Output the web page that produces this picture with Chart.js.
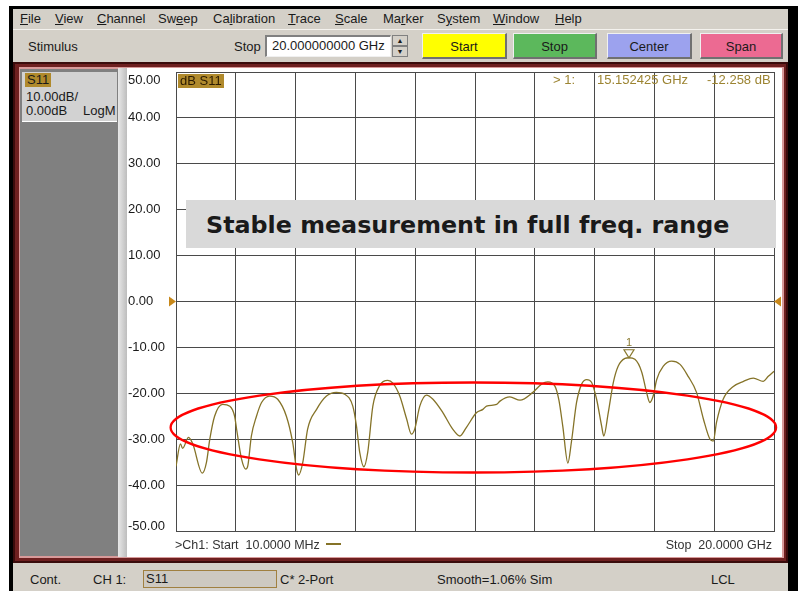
<!DOCTYPE html>
<html>
<head>
<meta charset="utf-8">
<script src="https://cdn.jsdelivr.net/npm/chart.js@4.4.0/dist/chart.umd.min.js"></script>
<style>
body { margin: 0; width: 798px; height: 591px; position: relative; overflow: hidden; background: #fff;
       font-family: "Liberation Sans", Arial, sans-serif; font-size: 13px; color: #1a1a1a; }
.abs { position: absolute; white-space: nowrap; }
.frame-black { background: #000; }
#menu { left: 13px; top: 9px; width: 775px; height: 20px; background: #d4d0c8; }
#menu span { position: absolute; top: 3px; line-height: 14px; }
#toolbar { left: 13px; top: 29px; width: 775px; height: 33px; background: #d4d0c8; border-top: 1px solid #f4f2ee; box-sizing: border-box; }
.btn { top: 33px; height: 26px; line-height: 26px; text-align: center; box-sizing: border-box;
       border-top: 1px solid #f0f0f0; border-left: 1px solid #f0f0f0; border-right: 2px solid #707070; border-bottom: 2px solid #707070; }
#panel { left: 13px; top: 62px; width: 775px; height: 501px; background: #6e2020; box-shadow: inset 0 0 0 2px #3a0c0c; }
#status { left: 13px; top: 563px; width: 775px; height: 28px; background: #d4d0c8; }
.st { top: 572px; line-height: 15px; }
.readout { top: 73px; line-height: 14px; color: #9c8432; }
</style>
</head>
<body>
<!-- cadre de la fenêtre -->
<div class="abs frame-black" style="left:9px;top:6px;width:789px;height:3px"></div>
<div class="abs frame-black" style="left:9px;top:6px;width:4px;height:585px"></div>
<div class="abs frame-black" style="left:788px;top:6px;width:10px;height:585px"></div>

<div id="menu" class="abs">
  <span style="left:7px"><u>F</u>ile</span>
  <span style="left:42px"><u>V</u>iew</span>
  <span style="left:84px"><u>C</u>hannel</span>
  <span style="left:145px">Sw<u>e</u>ep</span>
  <span style="left:200px">Ca<u>l</u>ibration</span>
  <span style="left:275px"><u>T</u>race</span>
  <span style="left:322px"><u>S</u>cale</span>
  <span style="left:370px">Ma<u>r</u>ker</span>
  <span style="left:424px">S<u>y</u>stem</span>
  <span style="left:480px"><u>W</u>indow</span>
  <span style="left:542px"><u>H</u>elp</span>
</div>

<div id="toolbar" class="abs"></div>
<div class="abs" style="left:28px;top:39px;line-height:15px">Stimulus</div>
<div class="abs" style="left:234px;top:39px;line-height:15px">Stop</div>
<div class="abs" style="left:265px;top:35px;width:126px;height:22px;background:#fff;box-sizing:border-box;border-top:2px solid #808080;border-left:2px solid #808080;border-bottom:1px solid #f0f0f0;border-right:1px solid #f0f0f0;padding-left:5px;line-height:18px" id="stopBox"></div>
<div class="abs" style="left:392px;top:35px;width:16px;height:11px;background:#d4d0c8;box-sizing:border-box;border:1px solid #808080;font-size:7px;line-height:9px;text-align:center">&#9650;</div>
<div class="abs" style="left:392px;top:46px;width:16px;height:11px;background:#d4d0c8;box-sizing:border-box;border:1px solid #808080;font-size:7px;line-height:9px;text-align:center">&#9660;</div>
<div class="abs btn" style="left:422px;width:85px;background:#ffff00">Start</div>
<div class="abs btn" style="left:513px;width:84px;background:#5cb85c">Stop</div>
<div class="abs btn" style="left:607px;width:85px;background:#9ca2ee">Center</div>
<div class="abs btn" style="left:700px;width:83px;background:#ec6a92">Span</div>

<!-- fenêtre de la trace -->
<div id="panel" class="abs"></div>
<div class="abs" style="left:19px;top:67px;width:765px;height:491px;background:#d89a9a"></div>
<div class="abs" style="left:20px;top:69px;width:98px;height:487px;background:#808080"></div>
<div class="abs" style="left:22px;top:72px;width:95px;height:49px;background:#d2d2d2;border-bottom:1px solid #fff"></div>
<div class="abs" style="left:25px;top:73px;line-height:14px;background:#b08a2c;padding:0 2px">S11</div>
<div class="abs" style="left:26px;top:90px;line-height:14px">10.00dB/</div>
<div class="abs" style="left:26px;top:104px;line-height:14px">0.00dB</div>
<div class="abs" style="left:83px;top:104px;line-height:14px">LogM</div>
<div class="abs" style="left:118px;top:68px;width:9px;height:489px;background:linear-gradient(90deg,#e8e8e8,#bdbdbd)"></div>
<div class="abs" style="left:127px;top:68px;width:655px;height:489px;background:#fff"></div>

<div class="abs" style="left:127px;top:68px;width:655px;height:489px;z-index:1">
  <canvas id="s11Chart"></canvas>
</div>

<div class="abs" style="left:178px;top:74px;line-height:14px;background:#b08a2c;color:#2a1a00;padding:0 2px;z-index:2">dB S11</div>
<div class="abs readout" style="left:553px;z-index:2">&gt; 1:</div>
<div class="abs readout" style="left:597px;z-index:2" id="mkF"></div>
<div class="abs readout" style="left:707px;z-index:2" id="mkA"></div>
<div class="abs" style="left:175px;top:538px;line-height:14px;font-size:12.5px;color:#333;z-index:2" id="startLbl"></div>
<div class="abs" style="left:326px;top:543px;width:15px;height:2px;background:#857328;z-index:2"></div>
<div class="abs" style="right:26px;top:538px;line-height:14px;font-size:12.5px;color:#333;z-index:2" id="stopLbl"></div>

<div class="abs" style="left:186px;top:200px;width:590px;height:48px;background:#d9d9d9;z-index:3;
     font-family:'DejaVu Sans',Verdana,sans-serif;font-weight:bold;font-size:23.8px;line-height:50px;padding-left:20px;box-sizing:border-box;color:#1a1a1a">Stable measurement in full freq. range</div>

<div id="status" class="abs"></div>
<div class="abs st" style="left:30px">Cont.</div>
<div class="abs st" style="left:93px">CH 1:</div>
<div class="abs" style="left:143px;top:570px;width:134px;height:18px;box-sizing:border-box;border:1px solid #a08040;background:#cdc9c1;padding-left:2px;line-height:16px">S11</div>
<div class="abs st" style="left:280px">C* 2-Port</div>
<div class="abs st" style="left:437px">Smooth=1.06% Sim</div>
<div class="abs st" style="left:711px">LCL</div>

<script>
// ============================================================
//  DONNÉES (lues sur la capture)
// ============================================================
const startGHz = 0.01;
const stopGHz = 20;
const yTicksDb = [50, 40, 30, 20, 10, 0, -10, -20, -30, -40, -50];

const freqGHz = [0.01, 0.16, 0.23, 0.43, 0.57, 0.89, 1.03, 1.14, 1.30, 1.57, 1.81, 1.97, 2.04, 2.20, 2.34, 2.41,
  2.53, 2.70, 2.87, 3.14, 3.41, 3.70, 3.91, 4.04, 4.11, 4.25, 4.41, 4.71, 5.04, 5.37, 5.65, 5.92, 6.04, 6.15,
  6.29, 6.42, 6.59, 6.82, 7.09, 7.26, 7.49, 7.72, 7.88, 7.99, 8.16, 8.38, 8.60, 8.93, 9.26, 9.50, 9.72, 10.06,
  10.27, 10.39, 10.73, 10.84, 11.17, 11.51, 11.94, 12.23, 12.44, 12.68, 12.81, 12.94, 13.11, 13.23, 13.40,
  13.57, 13.74, 13.90, 14.07, 14.24, 14.31, 14.46, 14.63, 14.79, 15.02, 15.15, 15.35, 15.58, 15.74, 15.85,
  15.96, 16.08, 16.30, 16.58, 16.86, 17.13, 17.41, 17.64, 17.86, 17.97, 18.08, 18.30, 18.64, 18.98, 19.31,
  19.64, 19.81, 20.00];

const s11dB = [-35.9, -31, -32, -29.6, -31, -37.4, -35, -30, -25, -22.4, -22.8, -25, -28, -34.3, -36.5, -35.8,
  -29.3, -25, -22, -20.6, -21.3, -25, -30.7, -36.5, -37.8, -35, -27.8, -23.5, -20.6, -19.8, -20.2, -22.8, -27, -32.8,
  -36, -32.8, -22.8, -18.3, -17.2, -17.8, -20.6, -25.6, -28.9, -27.8, -22.8, -20.4, -21.3, -24.2, -27.8, -29.3, -27.4, -24.2,
  -23.5, -22.8, -22.4, -21.7, -20.8, -21.5, -19.8, -18, -17.5, -18.5, -21.5, -27.2, -35.2, -30.5, -22,
  -18, -17, -17.6, -21.3, -27.2, -29.3, -24.2, -17.6, -14.1, -12.4, -12.26, -12.6, -15.4, -19.8, -22,
  -20.6, -17, -14.1, -13, -13.7, -16.3, -19.8, -25.6, -30, -30.4, -26.3, -21.3, -18.5, -17.4, -16.7,
  -17.4, -16.3, -15.2];

// marqueur 1
const markerGHz = 15.152425;
const markerDb = -12.258;
const refLevelDb = 0;

// ellipse rouge (annotation), en unités des axes
const ellipseCenterGHz = 9.95, ellipseRadiusGHz = 10.12;
const ellipseCenterDb = -27.45, ellipseRadiusDb = 9.8;

document.getElementById('stopBox').innerText = stopGHz.toFixed(9) + ' GHz';
document.getElementById('mkF').innerText = markerGHz.toFixed(6) + ' GHz';
document.getElementById('mkA').innerText = markerDb.toFixed(3) + ' dB';
document.getElementById('startLbl').innerHTML = '&gt;Ch1: Start&nbsp; ' + (startGHz * 1000).toFixed(4) + ' MHz';
document.getElementById('stopLbl').innerHTML = 'Stop&nbsp; ' + stopGHz.toFixed(4) + ' GHz';

// ============================================================
//  DESSINS SUPPLÉMENTAIRES (libellés, repères, marqueur, ellipse)
// ============================================================
const overlayPlugin = {
  id: 'vnaOverlay',
  afterDraw(chart) {
    const { ctx, chartArea: a, scales: { x, y } } = chart;
    ctx.save();

    // libellés de l'axe Y, collés au bord du cadre comme sur l'analyseur
    ctx.font = '13px "Liberation Sans", Arial, sans-serif';
    ctx.fillStyle = '#1a1a1a';
    ctx.textAlign = 'left';
    ctx.textBaseline = 'middle';
    y.ticks.forEach(t => {
      const py = Math.min(Math.max(y.getPixelForValue(t.value), a.top + 8), a.bottom - 5);
      ctx.fillText(t.value.toFixed(2), y.left, py);
    });

    // repères de niveau de référence
    const y0 = y.getPixelForValue(refLevelDb);
    ctx.fillStyle = '#c8881a';
    ctx.beginPath();
    ctx.moveTo(a.left - 7, y0 - 5); ctx.lineTo(a.left, y0); ctx.lineTo(a.left - 7, y0 + 5);
    ctx.closePath(); ctx.fill();
    ctx.beginPath();
    ctx.moveTo(a.right + 7, y0 - 5); ctx.lineTo(a.right, y0); ctx.lineTo(a.right + 7, y0 + 5);
    ctx.closePath(); ctx.fill();

    // marqueur 1
    const mx = x.getPixelForValue(markerGHz);
    const my = y.getPixelForValue(markerDb);
    ctx.strokeStyle = '#8a7a30';
    ctx.lineWidth = 1.2;
    ctx.beginPath();
    ctx.moveTo(mx - 5, my - 8); ctx.lineTo(mx + 5, my - 8); ctx.lineTo(mx, my);
    ctx.closePath(); ctx.stroke();
    ctx.fillStyle = '#8a7a30';
    ctx.font = '11px "Liberation Sans", Arial, sans-serif';
    ctx.textAlign = 'center';
    ctx.fillText('1', mx, my - 15);

    // ellipse rouge
    const cx = x.getPixelForValue(ellipseCenterGHz);
    const cy = y.getPixelForValue(ellipseCenterDb);
    const rx = x.getPixelForValue(ellipseCenterGHz + ellipseRadiusGHz) - cx;
    const ry = y.getPixelForValue(ellipseCenterDb - ellipseRadiusDb) - cy;
    ctx.strokeStyle = '#ff0000';
    ctx.lineWidth = 2.3;
    ctx.beginPath();
    ctx.ellipse(cx, cy, rx, ry, 0, 0, Math.PI * 2);
    ctx.stroke();

    ctx.restore();
  }
};

// ============================================================
//  GRAPHIQUE
// ============================================================
const ctx = document.getElementById('s11Chart').getContext('2d');
new Chart(ctx, {
  type: 'line',
  data: {
    datasets: [{
      label: 'S11',
      data: freqGHz.map((f, i) => ({ x: f, y: s11dB[i] })),
      borderColor: '#857328',
      borderWidth: 1.3,
      pointRadius: 0,
      cubicInterpolationMode: 'monotone',
      fill: false
    }]
  },
  options: {
    responsive: true,
    maintainAspectRatio: false,
    animation: false,
    layout: { padding: { left: 1, top: 4, right: 8, bottom: 26 } },
    plugins: {
      legend: { display: false },
      tooltip: { enabled: false }
    },
    scales: {
      x: {
        type: 'linear',
        min: startGHz,
        max: stopGHz,
        afterBuildTicks: s => {
          s.ticks = Array.from({ length: 11 }, (_, i) => ({ value: startGHz + i * (stopGHz - startGHz) / 10 }));
        },
        afterFit: s => { s.height = 0; s.paddingLeft = 0; s.paddingRight = 0; },
        ticks: { display: false },
        grid: { color: '#4a4a4a', drawTicks: false },
        border: { color: '#4a4a4a' }
      },
      y: {
        min: yTicksDb[yTicksDb.length - 1],
        max: yTicksDb[0],
        afterBuildTicks: s => { s.ticks = yTicksDb.map(v => ({ value: v })); },
        afterFit: s => { s.width = 48; s.paddingTop = 0; s.paddingBottom = 0; },
        ticks: { display: false },
        grid: { color: '#4a4a4a', drawTicks: false },
        border: { color: '#4a4a4a' }
      }
    }
  },
  plugins: [overlayPlugin]
});
</script>
</body>
</html>
